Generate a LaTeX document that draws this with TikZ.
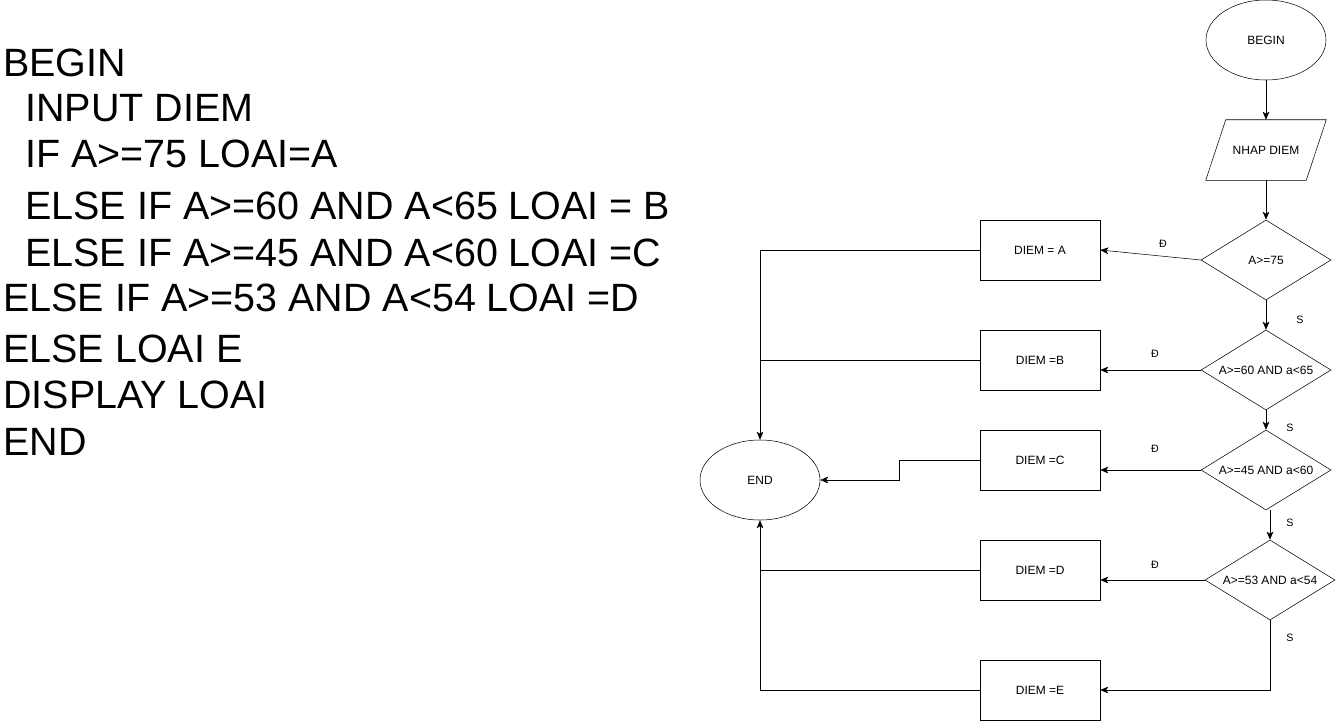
\documentclass[tikz,border=0pt]{standalone}
\usepackage{fontspec}
\setmainfont{Liberation Sans}
\usepackage{tikz}
\usetikzlibrary{arrows.meta,shapes.geometric,positioning,calc}

\begin{document}
\begin{tikzpicture}[x=0.75pt, y=-0.75pt,
  code/.style={anchor=base west, inner sep=0pt, font=\fontsize{29.6}{34}\selectfont},
  terminal/.style={draw, ellipse, minimum width=90pt, minimum height=60pt, inner sep=0pt, font=\fontsize{9}{10}\selectfont},
  io/.style={rectangle, minimum width=75pt, minimum height=45pt, inner sep=0pt, font=\fontsize{9}{10}\selectfont},
  test/.style={draw, diamond, aspect=1.625, minimum width=97.5pt, minimum height=60pt, inner sep=0pt, font=\fontsize{9}{10}\selectfont},
  proc/.style={draw, rectangle, minimum width=90pt, minimum height=45pt, inner sep=0pt, font=\fontsize{9}{10}\selectfont},
  tag/.style={inner sep=0pt, font=\fontsize{8}{9}\selectfont},
  flow/.style={-{Stealth[length=6pt, width=5pt, inset=1.5pt]}}]
  \useasboundingbox (0,0) rectangle (1336,721);

  % pseudo code
  \node[code] at (3, 76) (l0) {BEGIN};
  \node[code] at (25, 121) (l1) {INPUT DIEM};
  \node[code] at (25, 167) (l2) {IF A>=75 LOAI=A};
  \node[code] at (25, 219) (l3) {ELSE IF A>=60 AND A<65 LOAI = B};
  \node[code] at (25, 266) (l4) {ELSE IF A>=45 AND A<60 LOAI =C};
  \node[code] at (3, 311) (l5) {ELSE IF A>=53 AND A<54 LOAI =D};
  \node[code] at (3, 362) (l6) {ELSE LOAI E};
  \node[code] at (3, 408) (l7) {DISPLAY LOAI};
  \node[code] at (3, 455) (l8) {END};

  % flowchart
  \node[terminal] at (1266, 40) (begin) {BEGIN};
  \node[io] at (1266, 150) (input) {NHAP DIEM};
  \draw ($(input.north west)+(10,0)$) -- ($(input.north east)+(10,0)$)
     -- ($(input.south east)+(-10,0)$) -- ($(input.south west)+(-10,0)$) -- cycle;
  \node[test] at (1266, 260) (cond0) {A>=75};
  \node[test] at (1266, 370) (cond1) {A>=60 AND a<65};
  \node[test] at (1266, 470) (cond2) {A>=45 AND a<60};
  \node[test] at (1270, 580) (cond3) {A>=53 AND a<54};
  \node[proc] at (1040, 250) (diemA) {DIEM = A};
  \node[proc] at (1040, 360) (diemB) {DIEM =B};
  \node[proc] at (1040, 460) (diemC) {DIEM =C};
  \node[proc] at (1040, 570) (diemD) {DIEM =D};
  \node[proc] at (1040, 690) (diemE) {DIEM =E};
  \node[terminal] at (760, 480) (stop) {END};

  \node[tag] at (1163, 244) (yes0) {Đ};
  \node[tag] at (1155, 354) (yes1) {Đ};
  \node[tag] at (1155, 449) (yes2) {Đ};
  \node[tag] at (1155, 565) (yes3) {Đ};
  \node[tag] at (1300, 320) (no0) {S};
  \node[tag] at (1290, 428) (no1) {S};
  \node[tag] at (1290, 523) (no2) {S};
  \node[tag] at (1290, 638) (no3) {S};

  \draw[flow] (begin) -- (input);
  \draw[flow] (input) -- (cond0);
  \draw[flow] (cond0.west) -- (diemA.east);
  \draw[flow] (cond0.south) -- (cond1.north);
  \draw[flow] (cond1.west) -- (cond1.west -| diemB.east);
  \draw[flow] (cond1.south) -- (cond2.north);
  \draw[flow] (cond2.west) -- (cond2.west -| diemC.east);
  \draw[flow] (cond3.north |- cond2.south) -- (cond3.north);
  \draw[flow] (cond3.west) -- (cond3.west -| diemD.east);
  \draw[flow] (cond3.south) |- (diemE.east);

  \draw[flow] (diemA.west) -| (stop.north);
  \draw (diemB.west) -- (diemB.west -| stop.north);
  \draw[flow] (diemC.west) -- ++(-80, 0) |- (stop.east);
  \draw (diemD.west) -- (diemD.west -| stop.south);
  \draw[flow] (diemE.west) -| (stop.south);
\end{tikzpicture}
\end{document}
